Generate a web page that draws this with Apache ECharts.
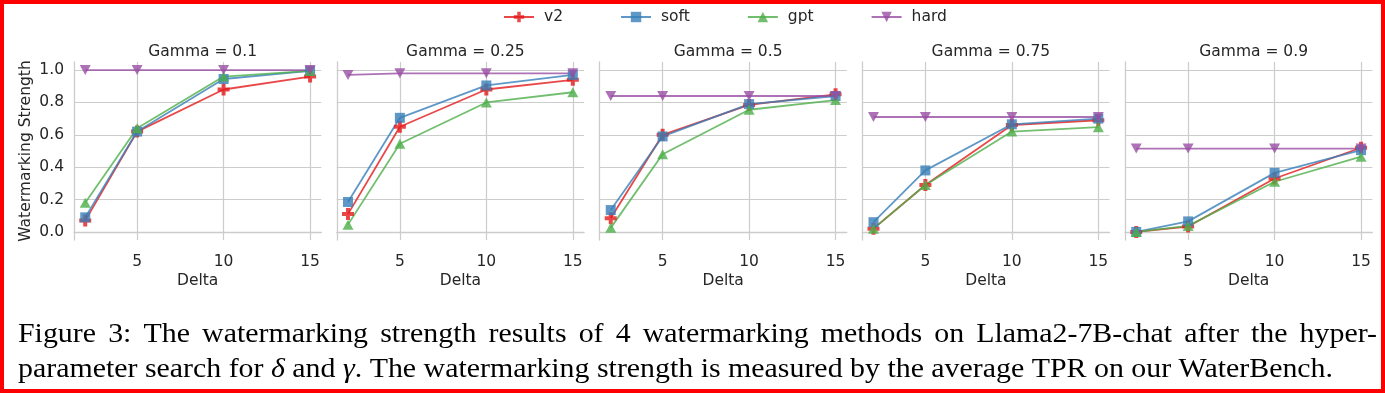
<!DOCTYPE html>
<html>
<head>
<meta charset="utf-8">
<script src="https://cdn.jsdelivr.net/npm/echarts@6/dist/echarts.min.js"></script>
<style>
html,body{margin:0;padding:0;background:#fff;}
#chart{width:1385px;height:393px;}
</style>
</head>
<body>
<div id="chart"></div>
<script>
// ---------------- data ----------------
const deltas = [2, 5, 10, 15];
const gammas = ['0.1', '0.25', '0.5', '0.75', '0.9'];
const xTicks = [5, 10, 15];
const yTicks = [0, 0.2, 0.4, 0.6, 0.8, 1.0];
const methods = ['v2', 'soft', 'gpt', 'hard'];
// values per gamma panel, in delta order
const v2 = [
  [0.07, 0.62, 0.88, 0.96],
  [0.11, 0.65, 0.88, 0.94],
  [0.085, 0.60, 0.785, 0.85],
  [0.02, 0.29, 0.66, 0.69],
  [0.0, 0.033, 0.33, 0.52]
];
const soft = [
  [0.09, 0.62, 0.945, 0.995],
  [0.185, 0.705, 0.905, 0.97],
  [0.135, 0.59, 0.79, 0.84],
  [0.06, 0.38, 0.665, 0.70],
  [0.0, 0.065, 0.365, 0.505]
];
const gpt = [
  [0.18, 0.64, 0.96, 0.995],
  [0.045, 0.545, 0.80, 0.863],
  [0.025, 0.48, 0.755, 0.815],
  [0.02, 0.29, 0.62, 0.647],
  [0.0, 0.037, 0.31, 0.465]
];
const hard = [
  [1.0, 1.0, 1.0, 1.0],
  [0.97, 0.98, 0.98, 0.98],
  [0.84, 0.84, 0.84, 0.84],
  [0.71, 0.71, 0.71, 0.71],
  [0.515, 0.515, 0.515, 0.515]
];
const captionLine1 = 'Figure 3: The watermarking strength results of 4 watermarking methods on Llama2-7B-chat after the hyper-';
const captionLine2 = 'parameter search for δ and γ. The watermarking strength is measured by the average TPR on our WaterBench.';

// ---------------- style ----------------
const values = { v2, soft, gpt, hard };
const colors = {
  v2: 'rgba(228,26,28,0.8)',
  soft: 'rgba(55,126,184,0.8)',
  gpt: 'rgba(77,175,74,0.8)',
  hard: 'rgba(152,78,163,0.8)'
};
const symbols = {
  v2: { symbol: 'path://M2,0H4V2H6V4H4V6H2V4H0V2H2Z', size: 12 },
  soft: { symbol: 'rect', size: 10 },
  gpt: { symbol: 'path://M5,0L10,9L0,9Z', size: [11, 10] },
  hard: { symbol: 'path://M0,0L10,0L5,9Z', size: [11, 10] }
};
const textColor = '#262626';
const font = 'DejaVu Sans';
const fs = 15.5;
const gridColor = '#cccccc';
const panelLeft0 = 74, panelStep = 262.75, panelW = 247.3, panelTop = 62, panelH = 178;

const grids = [], xAxes = [], yAxes = [], titles = [], series = [];
gammas.forEach((g, i) => {
  const left = panelLeft0 + i * panelStep;
  grids.push({ left: left, top: panelTop, width: panelW, height: panelH, containLabel: false });
  titles.push({
    text: 'Gamma = ' + g, left: left + panelW / 2, top: 39, textAlign: 'center',
    textStyle: { fontFamily: font, fontSize: fs, fontWeight: 'normal', color: textColor }
  });
  xAxes.push({
    type: 'value', gridIndex: i, min: 1.35, max: 15.65,
    name: 'Delta', nameLocation: 'middle', nameGap: 33,
    nameTextStyle: { fontFamily: font, fontSize: fs, color: textColor },
    axisLine: { show: true, lineStyle: { color: gridColor, width: 1.3 } },
    axisTick: { show: false, customValues: xTicks },
    axisLabel: { customValues: xTicks, fontFamily: font, fontSize: fs, color: textColor, margin: 14 },
    splitLine: { show: true, lineStyle: { color: gridColor, width: 1.2 } }
  });
  yAxes.push({
    type: 'value', gridIndex: i, min: -0.05, max: 1.05,
    name: i === 0 ? 'Watermarking Strength' : '', nameLocation: 'middle', nameGap: 40,
    nameTextStyle: { fontFamily: font, fontSize: fs, color: textColor },
    axisLine: { show: true, lineStyle: { color: gridColor, width: 1.3 } },
    axisTick: { show: false, customValues: yTicks },
    axisLabel: {
      show: i === 0, customValues: yTicks, fontFamily: font, fontSize: fs, color: textColor, margin: 10,
      formatter: v => Number(v).toFixed(1)
    },
    splitLine: { show: true, lineStyle: { color: gridColor, width: 1.2 } }
  });
  methods.forEach(m => {
    series.push({
      name: m, type: 'line', xAxisIndex: i, yAxisIndex: i,
      data: deltas.map((d, k) => [d, values[m][i][k]]),
      symbol: symbols[m].symbol, symbolSize: symbols[m].size, showAllSymbol: true,
      lineStyle: { color: colors[m], width: 1.8 },
      itemStyle: { color: colors[m] },
      emphasis: { disabled: true },
      animation: false
    });
  });
});

// ---------------- caption (justified, measured) ----------------
const capSize = 28, capFamily = 'Liberation Serif';
const mctx = document.createElement('canvas').getContext('2d');
function measure(t, italic) {
  mctx.font = (italic ? 'italic ' : '') + capSize + 'px "' + capFamily + '"';
  return mctx.measureText(t).width;
}
function tokenize(line) {
  return line.split(' ').map(word => {
    const runs = [];
    let cur = '', curIt = null;
    for (const ch of word) {
      const it = /[δγ]/.test(ch);
      if (curIt === null || it === curIt) { cur += ch; curIt = it; }
      else { runs.push({ t: cur, it: curIt }); cur = ch; curIt = it; }
    }
    if (cur) runs.push({ t: cur, it: curIt });
    runs.forEach(r => r.w = measure(r.t, r.it));
    return { runs, w: runs.reduce((s, r) => s + r.w, 0) };
  });
}
const capLeft = 18, line1Right = 1377, line2Right = 1333;
const words1 = tokenize(captionLine1), words2 = tokenize(captionLine2);
const space = measure(' ', false);
const nat2 = words2.reduce((s, w) => s + w.w, 0) + space * (words2.length - 1);
const sx = (line2Right - capLeft) / nat2;
const graphics = [];
function placeLine(words, yMid, gap) {
  let x = capLeft;
  words.forEach(wd => {
    let rx = x;
    wd.runs.forEach(r => {
      graphics.push({
        type: 'text', x: rx, y: yMid, scaleX: sx, silent: true,
        style: {
          text: r.t, fontFamily: capFamily, fontSize: capSize, fontStyle: r.it ? 'italic' : 'normal',
          fill: '#000', align: 'left', verticalAlign: 'middle'
        }
      });
      rx += r.w * sx;
    });
    x += wd.w * sx + gap;
  });
}
const sum1 = words1.reduce((s, w) => s + w.w, 0) * sx;
const gap1 = (line1Right - capLeft - sum1) / (words1.length - 1);
placeLine(words1, 335, gap1);
placeLine(words2, 370, space * sx);
graphics.push({
  type: 'rect', silent: true, shape: { x: 2, y: 2, width: 1381, height: 389 },
  style: { fill: 'none', stroke: '#ff0000', lineWidth: 4 }
});

const chart = echarts.init(document.getElementById('chart'), null, { renderer: 'canvas' });
chart.setOption({
  animation: false,
  backgroundColor: '#ffffff',
  title: titles,
  legend: {
    data: methods, left: 498, top: 4, itemWidth: 30, itemHeight: 13, itemGap: 57,
    textStyle: { fontFamily: font, fontSize: fs, color: textColor, padding: [0, 0, 0, 5] }
  },
  grid: grids,
  xAxis: xAxes,
  yAxis: yAxes,
  series: series,
  graphic: graphics
});
</script>
</body>
</html>
